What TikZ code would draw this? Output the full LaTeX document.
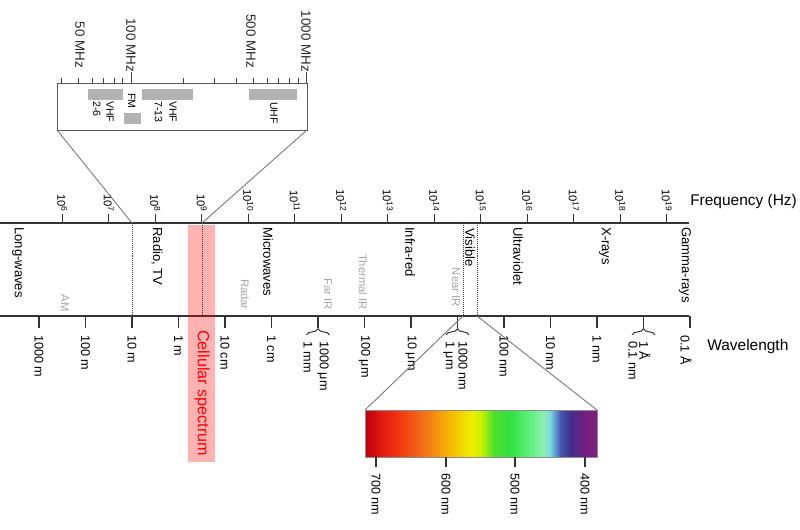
\documentclass[tikz,border=0pt]{standalone}
\usepackage{fontspec}
\setmainfont{Liberation Sans}
\usetikzlibrary{decorations.pathreplacing}
\definecolor{s1}{HTML}{C00010}
\definecolor{s2}{HTML}{E01810}
\definecolor{s3}{HTML}{F03010}
\definecolor{s4}{HTML}{F26818}
\definecolor{s5}{HTML}{F59010}
\definecolor{s6}{HTML}{F5BA00}
\definecolor{s7}{HTML}{F0E000}
\definecolor{s8}{HTML}{EEF000}
\definecolor{s9}{HTML}{C0F000}
\definecolor{s10}{HTML}{50E030}
\definecolor{s11}{HTML}{30E040}
\definecolor{s12}{HTML}{60F080}
\definecolor{s13}{HTML}{90ECB0}
\definecolor{s14}{HTML}{78D8E8}
\definecolor{s15}{HTML}{4858B0}
\definecolor{s16}{HTML}{403090}
\definecolor{s17}{HTML}{702080}
\definecolor{s18}{HTML}{802080}
\newcommand\specseg[4]{\shade[left color=#2, right color=#4] (#1,410) rectangle (#3+0.6,457);}
\begin{document}
\begin{tikzpicture}[x=0.025cm,y=-0.025cm,
  ax/.style={line width=0.8pt, draw=black!80},
  itk/.style={line width=0.7pt, draw=black!75},
  conn/.style={line width=0.6pt, draw=black!55},
  vdot/.style={line width=0.6pt, draw=black!75, dash pattern=on 0.7pt off 0.7pt},
  flab/.style={rotate=-90, anchor=east, inner sep=1pt, font=\fontsize{8}{9}\selectfont},
  wlab/.style={rotate=-90, anchor=west, inner sep=0pt, font=\fontsize{9}{10}\selectfont},
  rlab/.style={rotate=-90, anchor=west, inner sep=0pt, font=\fontsize{9.3}{10}\selectfont},
  glab/.style={rotate=-90, anchor=east, inner sep=0pt, text=black!35, font=\fontsize{8}{9}\selectfont},
  mlab/.style={rotate=-90, anchor=east, inner sep=0pt, text=black!85, font=\fontsize{9.5}{10}\selectfont},
  blab/.style={rotate=-90, anchor=west, inner sep=0pt, font=\fontsize{7.5}{8}\selectfont},
  bar/.style={fill=black!30, draw=none},
  brc/.style={line width=0.7pt, draw=black!80, decorate, decoration={brace, amplitude=4.5pt}}
]
\useasboundingbox (0,0) rectangle (800,529);

% ---------- main axes ----------
\coordinate (topL) at (0,223);
\coordinate (topR) at (689,223);
\coordinate (botL) at (0,316);
\coordinate (botR) at (689,316);
\draw[ax] (topL) -- (topR);
\draw[ax] (botL) -- (botR);

% frequency ticks
\foreach \i in {6,...,19}{
  \pgfmathsetmacro\xx{62.3+(\i-6)*46.5}
  \draw[ax] (\xx,223) -- (\xx,214) node[flab] (f\i) {10\textsuperscript{\i}};
}
\node[anchor=west, inner sep=0pt, font=\fontsize{11}{12}\selectfont] (freq) at (690,201) {Frequency (Hz)};

% wavelength ticks
\foreach \k/\lab in {0/1000 m,1/100 m,2/10 m,3/1 m,4/10 cm,5/1 cm,7/100 μm,8/10 μm,10/100 nm,11/10 nm,12/1 nm}{
  \pgfmathsetmacro\xx{39+\k*46.5}
  \draw[ax] (\xx,316) -- (\xx,328);
  \node[wlab] (w\k) at (\xx,335) {\lab};
}
\foreach \k in {6,9,13}{
  \pgfmathsetmacro\xx{39+\k*46.5}
  \draw[ax] (\xx,316) -- (\xx,328);
  \draw[brc] (\xx-11.5,335) -- (\xx+11.5,335);
}
\draw[ax] (690,316) -- (690,328);
\node[wlab] (w6a) at (323,341) {1000 μm};
\node[wlab] (w6b) at (308,341) {1 mm};
\node[wlab] (w9a) at (463,341) {1000 nm};
\node[wlab] (w9b) at (449,341) {1 μm};
\node[wlab] (w13a) at (645,341) {1 Å};
\node[wlab] (w13b) at (633,341) {0.1 nm};
\node[wlab] (w14) at (686,335) {0.1 Å};
\node[anchor=west, inner sep=0pt, font=\fontsize{11}{12}\selectfont] (wave) at (707,346) {Wavelength};

% dotted separators
\coordinate (tenmT) at (132,223);
\coordinate (tenmB) at (132,316);
\coordinate (gigT) at (202,223);
\coordinate (gigB) at (202,316);
\coordinate (visLT) at (463,223);
\coordinate (visLB) at (463,316);
\coordinate (visRT) at (477,223);
\coordinate (visRB) at (477,316);
\draw[vdot] (tenmT) -- (tenmB);
\draw[vdot] (gigT) -- (gigB);
\draw[vdot] (visLT) -- (visLB);
\draw[vdot] (visRT) -- (visRB);

% region labels
\node[rlab] (lw) at (18,227) {Long-waves};
\node[rlab] (rtv) at (157,227) {Radio, TV};
\node[rlab] (mw) at (268,227) {Microwaves};
\node[rlab] (ir) at (410,227) {Infra-red};
\node[rlab] (vis) at (470,228) {Visible};
\node[rlab] (uv) at (518,227) {Ultraviolet};
\node[rlab] (xr) at (605,227) {X-rays};
\node[rlab] (gr) at (685,227) {Gamma-rays};

\node[glab] (am) at (65,312) {AM};
\node[glab] (radar) at (245,310) {Radar};
\node[glab] (farir) at (328,310) {Far IR};
\node[glab] (thir) at (363,310) {Thermal IR};
\node[glab] (nearir) at (456,307) {Near IR};

% ---------- inset ----------
\coordinate (inTL) at (57,83);
\coordinate (inBL) at (57,130);
\coordinate (inTR) at (307,83);
\coordinate (inBR) at (307,130);
\draw[conn, draw=black!65] (inTL) rectangle (inBR);
\foreach \f in {40,50,60,70,80,90,200,300,400,500,600,700,800,900}{
  \pgfmathsetmacro\xx{131+175*log10(\f/100)}
  \draw[itk] (\xx,83) -- (\xx,78);
}
\draw[itk] (131,83) -- (131,72);
\draw[itk] (306,83) -- (306,72);
\node[mlab] (m50) at (80,68) {50 MHz};
\node[mlab] (m100) at (131,72) {100 MHz};
\node[mlab] (m500) at (251,68) {500 MHz};
\node[mlab] (m1000) at (306,72) {1000 MHz};

\fill[bar] (88.3,89) rectangle (123.3,100);
\fill[bar] (124,113) rectangle (140.7,124);
\fill[bar] (141.7,89) rectangle (193.3,100);
\fill[bar] (249,89) rectangle (297.3,100);
\node[blab] (vhfa) at (110,101) {VHF};
\node[blab] (vhfb) at (96.7,101) {2-6};
\node[blab] (fm) at (131.7,93) {FM};
\node[blab] (vhfc) at (173,101) {VHF};
\node[blab] (vhfd) at (158.5,101) {7-13};
\node[blab] (uhf) at (274,102) {UHF};

\draw[conn] (inBL) -- (tenmT);
\draw[conn] (inBR) -- (gigT);

% ---------- visible spectrum ----------
\specseg{365}{s1}{380}{s2}
\specseg{380}{s2}{395}{s3}
\specseg{395}{s3}{420}{s4}
\specseg{420}{s4}{435}{s5}
\specseg{435}{s5}{450}{s6}
\specseg{450}{s6}{465}{s7}
\specseg{465}{s7}{472}{s8}
\specseg{472}{s8}{482}{s9}
\specseg{482}{s9}{493}{s10}
\specseg{493}{s10}{510}{s11}
\specseg{510}{s11}{530}{s12}
\specseg{530}{s12}{543}{s13}
\specseg{543}{s13}{550}{s14}
\specseg{550}{s14}{560}{s15}
\specseg{560}{s15}{570}{s16}
\specseg{570}{s16}{583}{s17}
\shade[left color=s17, right color=s18] (583,410) rectangle (597,457);
\coordinate (spTL) at (365,410);
\coordinate (spTR) at (597,410);
\coordinate (spBR) at (597,457);
\draw[line width=0.6pt, draw=black!45] (spTL) rectangle (spBR);
\draw[conn] (visLB) -- (spTL);
\draw[conn] (visRB) -- (spTR);
\foreach \x/\lab in {376/700 nm,446/600 nm,515/500 nm,585/400 nm}{
  \draw[ax] (\x,457) -- (\x,467);
  \node[wlab] (v\x) at (\x,473) {\lab};
}

% ---------- cellular band ----------
\fill[red, opacity=0.3] (188,225) rectangle (215,462);
\node[rotate=-90, anchor=west, inner sep=0pt, text=red, font=\fontsize{11.5}{12}\selectfont] (cell) at (202,330) {Cellular spectrum};
\end{tikzpicture}
\end{document}
